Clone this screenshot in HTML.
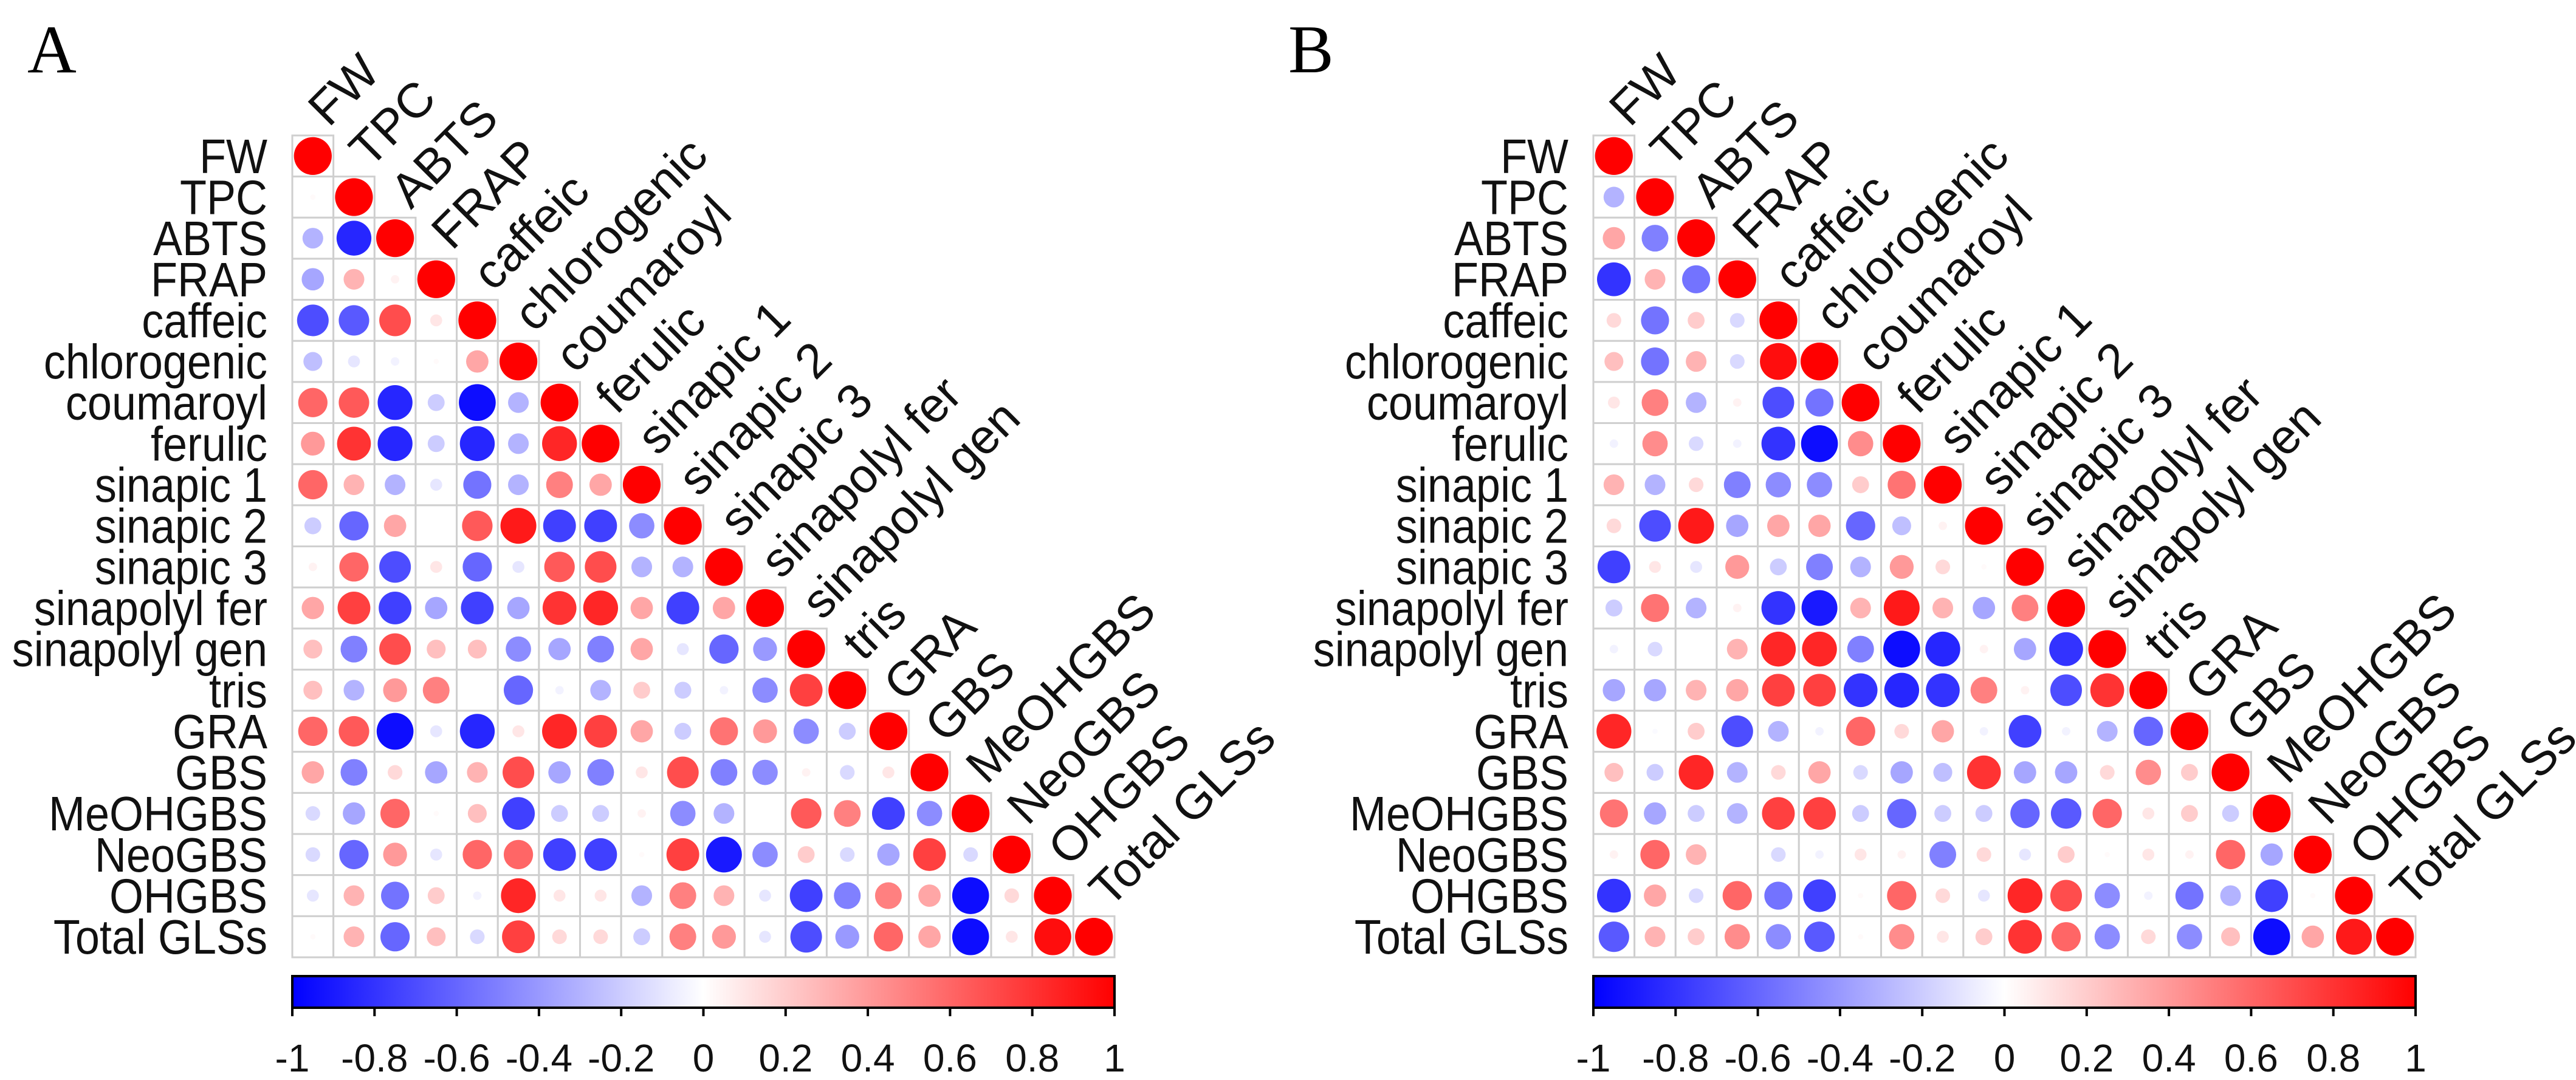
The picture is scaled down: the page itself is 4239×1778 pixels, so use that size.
<!DOCTYPE html>
<html><head><meta charset="utf-8"><style>html,body{margin:0;padding:0;background:#fff;}svg{display:block;}</style></head>
<body>
<svg id="chart" xmlns="http://www.w3.org/2000/svg" width="4239" height="1778" viewBox="0 0 4239 1778" font-family="Liberation Sans, sans-serif">
<defs><linearGradient id="cbg" x1="0" x2="1" y1="0" y2="0"><stop offset="0" stop-color="#0000ff"/><stop offset="0.5" stop-color="#ffffff"/><stop offset="1" stop-color="#ff0000"/></linearGradient></defs>
<text x="45" y="119" font-family="Liberation Serif, serif" font-size="112">A</text>
<text x="2120" y="119" font-family="Liberation Serif, serif" font-size="112">B</text>
</svg>
<script>
const labels = ["FW","TPC","ABTS","FRAP","caffeic","chlorogenic","coumaroyl","ferulic","sinapic 1","sinapic 2","sinapic 3","sinapolyl fer","sinapolyl gen","tris","GRA","GBS","MeOHGBS","NeoGBS","OHGBS","Total GLSs"];
const tickLabels = ["-1","-0.8","-0.6","-0.4","-0.2","0","0.2","0.4","0.6","0.8","1"];
const corrA = [
[],
[0.02],
[-0.3,-0.85],
[-0.35,0.3,0.05],
[-0.7,-0.65,0.7,0.1],
[-0.25,-0.1,-0.05,0.02,0.35],
[0.6,0.65,-0.85,-0.2,-0.95,-0.3],
[0.4,0.8,-0.85,-0.2,-0.85,-0.3,0.85],
[0.6,0.3,-0.3,-0.1,-0.55,-0.3,0.5,0.35],
[-0.2,-0.6,0.35,0,0.65,0.9,-0.75,-0.75,-0.45],
[0.05,0.6,-0.7,0.1,-0.6,-0.1,0.65,0.7,-0.3,-0.3],
[0.35,0.75,-0.75,-0.35,-0.75,-0.35,0.8,0.85,0.35,-0.75,0.35],
[0.25,-0.5,0.7,0.25,0.25,-0.45,-0.35,-0.5,0.35,-0.1,-0.6,-0.4],
[0.25,-0.3,0.4,0.5,0,-0.6,-0.05,-0.3,0.2,-0.2,-0.05,-0.45,0.75],
[0.6,0.65,-0.95,-0.1,-0.85,0.1,0.85,0.75,0.35,-0.2,0.55,0.4,-0.45,-0.2],
[0.35,-0.5,0.15,-0.35,0.3,0.7,-0.35,-0.5,0.1,0.7,-0.5,-0.45,0.05,-0.15,0.1],
[-0.15,-0.35,0.6,0.02,0.25,-0.75,-0.2,-0.2,0.05,-0.45,-0.3,0,0.65,0.5,-0.75,-0.45],
[-0.15,-0.6,0.4,-0.1,0.6,0.6,-0.75,-0.75,0.02,0.75,-0.9,-0.45,0.2,-0.15,-0.35,0.75,-0.15],
[-0.1,0.3,-0.55,0.2,-0.05,0.85,0.1,0.1,-0.3,0.5,0.3,-0.1,-0.75,-0.5,0.5,0.35,-0.95,0.15],
[0.02,0.3,-0.6,0.25,-0.15,0.75,0.15,0.15,-0.2,0.5,0.4,-0.1,-0.7,-0.4,0.6,0.35,-0.95,0.1,0.95]
];
const corrB = [
[],
[-0.3],
[0.35,-0.5],
[-0.8,0.3,-0.55],
[0.15,-0.55,0.2,-0.15],
[0.25,-0.55,0.3,-0.15,0.95],
[0.1,0.5,-0.3,0.05,-0.7,-0.55],
[-0.05,0.45,-0.15,-0.05,-0.8,-0.95,0.45],
[0.3,-0.3,0.15,-0.5,-0.45,-0.45,0.2,0.55],
[0.15,-0.7,0.9,-0.35,0.35,0.35,-0.6,-0.25,0.05],
[-0.75,0.1,-0.1,0.4,-0.2,-0.5,-0.3,0.4,0.15,0.02],
[-0.2,0.55,-0.3,0.05,-0.8,-0.9,0.3,0.9,0.3,-0.35,0.5],
[-0.05,-0.15,0,0.3,0.85,0.85,-0.5,-0.95,-0.85,0.05,-0.35,-0.8],
[-0.35,-0.35,0.3,0.35,0.75,0.75,-0.8,-0.85,-0.8,0.5,0.05,-0.7,0.8],
[0.85,-0.02,0.2,-0.7,-0.3,-0.05,0.6,0.15,0.35,-0.05,-0.75,-0.05,-0.3,-0.6],
[0.25,-0.2,0.85,-0.3,0.15,0.35,-0.15,-0.35,-0.25,0.8,-0.35,-0.35,0.15,0.45,0.2],
[0.55,-0.35,-0.2,-0.3,0.75,0.75,-0.2,-0.6,-0.2,-0.2,-0.6,-0.65,0.6,0.1,0.2,-0.2],
[0.05,0.6,0.3,0,-0.15,-0.05,0.1,0.05,-0.5,0.15,-0.1,0.2,0.02,0.1,0.05,0.6,-0.35],
[-0.8,0.35,-0.15,0.6,-0.55,-0.75,0.02,0.6,0.15,-0.1,0.85,0.7,-0.45,-0.05,-0.55,-0.3,-0.75,0.02],
[-0.65,0.3,0.2,0.45,-0.45,-0.65,0.02,0.45,0.1,0.2,0.8,0.6,-0.45,0.15,-0.45,0.25,-0.95,0.35,0.9]
];

const NS = "http://www.w3.org/2000/svg";
const svg = document.getElementById('chart');
const Y0 = 223;
function mk(tag, attrs, parent){ const e=document.createElementNS(NS,tag); for(const k in attrs) e.setAttribute(k,attrs[k]); (parent||svg).appendChild(e); return e; }
function colorOf(v){
  if(v>=0){ const c=Math.round(255*(1-v)); return `rgb(255,${c},${c})`; }
  const c=Math.round(255*(1+v)); return `rgb(${c},${c},255)`;
}
function drawPanel(X0, X1, data, tag){
  const g = mk('g',{});
  
  
  const n = labels.length;
  const W = X1 - X0;
  const CELL = W / n;
  for(let i=0;i<n;i++){
    const tx = X0-41, ty = Y0+i*CELL+CELL/2+28;
    const t = mk('text',{x:0,y:0,'font-size':80,'text-anchor':'end',fill:'#111',transform:`translate(${tx} ${ty}) scale(0.9 1)`},g);
    t.textContent = labels[i];
    
    
    const cx = X0+i*CELL+CELL/2+26, cy = Y0+i*CELL-12;
    const c = mk('text',{x:cx,y:cy,'font-size':80,fill:'#111',transform:`rotate(-45 ${cx} ${cy})`},g);
    c.textContent = labels[i];
    
    
    for(let j=0;j<=i;j++){
      const v = (j===i)?1:data[i][j];
      const x = X0+j*CELL, y = Y0+i*CELL;
      const r = mk('rect',{x:x,y:y,width:CELL,height:CELL,fill:'#fff',stroke:'#cfcfcf','stroke-width':3},g);
      
      
      const rad = Math.sqrt(Math.abs(v))*CELL*0.46;
      if(rad>0.5){
        const ci = mk('circle',{cx:x+CELL/2,cy:y+CELL/2,r:rad,fill:colorOf(v)},g);
        
        
      }
    }
  }
  const cb = mk('rect',{x:X0,y:1607,width:W,height:52,fill:'url(#cbg)',stroke:'#000','stroke-width':4},g);
  
  
  tickLabels.forEach((tl)=>{
    const v = parseFloat(tl);
    const x = X0 + (v+1)/2*W;
    mk('line',{x1:x,x2:x,y1:1659,y2:1673,stroke:'#000','stroke-width':4},g);
    const t = mk('text',{x:x,y:1764,'font-size':64,'text-anchor':'middle',fill:'#111'},g);
    t.textContent = tl;
    
    
  });
}
drawPanel(481, 1834, corrA, 'a');
drawPanel(2622, 3975, corrB, 'b');
</script>
</body></html>
